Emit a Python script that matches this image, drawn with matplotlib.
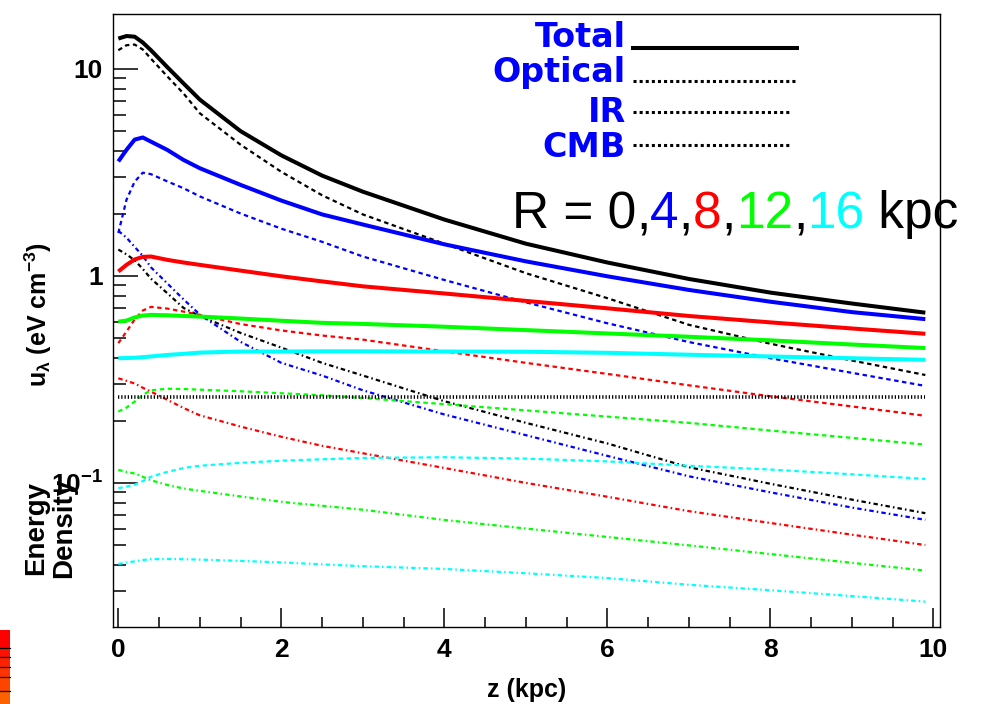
import matplotlib
matplotlib.use("Agg")
import matplotlib.pyplot as plt
from matplotlib import font_manager
from matplotlib.lines import Line2D
from matplotlib.patches import Rectangle
from matplotlib.ticker import MultipleLocator, LogLocator, NullFormatter

# ---------------- data: energy density vs height above the plane ----------------
z = [0, 0.1, 0.2, 0.3, 0.4, 0.6, 0.8, 1.0, 1.5, 2.0, 2.5, 3.0, 4, 5, 6, 7, 8, 9, 9.9]

radii = [0, 4, 8, 12, 16]
colors = ["#000000", "#0000ff", "#ff0000", "#00ff00", "#00ffff"]

total_r0 = [14.0, 14.4, 14.3, 13.4, 12.3, 10.2, 8.5, 7.1, 5.0, 3.82, 3.05, 2.55, 1.87, 1.43, 1.16, 0.966, 0.83, 0.735, 0.664]
optical_r0 = [12.3, 13.0, 13.1, 12.4, 11.2, 9.2, 7.6, 6.1, 4.3, 3.18, 2.45, 1.98, 1.43, 1.03, 0.78, 0.58, 0.47, 0.39, 0.332]
ir_r0 = [1.34, 1.27, 1.19, 1.08, 0.97, 0.825, 0.70, 0.64, 0.53, 0.45, 0.38, 0.33, 0.248, 0.195, 0.155, 0.119, 0.099, 0.083, 0.0714]

total_r4 = [3.57, 4.06, 4.55, 4.66, 4.45, 4.06, 3.63, 3.31, 2.75, 2.31, 1.98, 1.77, 1.42, 1.175, 0.995, 0.855, 0.75, 0.668, 0.618]
optical_r4 = [1.61, 2.33, 2.85, 3.15, 3.10, 2.86, 2.65, 2.42, 2.0, 1.69, 1.46, 1.24, 0.955, 0.745, 0.59, 0.479, 0.40, 0.34, 0.294]
ir_r4 = [1.65, 1.53, 1.38, 1.25, 1.10, 0.92, 0.77, 0.65, 0.48, 0.38, 0.33, 0.28, 0.214, 0.17, 0.135, 0.1076, 0.09, 0.076, 0.0663]

total_r8 = [1.05, 1.13, 1.20, 1.235, 1.24, 1.195, 1.16, 1.13, 1.06, 0.995, 0.94, 0.89, 0.822, 0.757, 0.697, 0.64, 0.596, 0.557, 0.525]
optical_r8 = [0.473, 0.538, 0.615, 0.68, 0.708, 0.695, 0.672, 0.648, 0.585, 0.545, 0.515, 0.492, 0.432, 0.38, 0.336, 0.296, 0.262, 0.234, 0.211]
ir_r8 = [0.32, 0.311, 0.302, 0.288, 0.276, 0.252, 0.23, 0.212, 0.187, 0.167, 0.151, 0.139, 0.118, 0.1, 0.0857, 0.073, 0.064, 0.0562, 0.0501]

total_r12 = [0.601, 0.608, 0.63, 0.643, 0.648, 0.645, 0.64, 0.636, 0.622, 0.607, 0.593, 0.586, 0.568, 0.547, 0.527, 0.508, 0.488, 0.466, 0.448]
optical_r12 = [0.221, 0.231, 0.247, 0.266, 0.28, 0.285, 0.284, 0.282, 0.277, 0.271, 0.265, 0.257, 0.24, 0.224, 0.209, 0.195, 0.179, 0.165, 0.153]
ir_r12 = [0.1156, 0.113, 0.111, 0.107, 0.103, 0.0977, 0.094, 0.0915, 0.086, 0.081, 0.0775, 0.0742, 0.0662, 0.0602, 0.0548, 0.0499, 0.0453, 0.0411, 0.0377]

total_r16 = [0.40, 0.401, 0.402, 0.405, 0.408, 0.415, 0.42, 0.426, 0.431, 0.431, 0.432, 0.432, 0.431, 0.43, 0.425, 0.416, 0.408, 0.40, 0.393]
optical_r16 = [0.0942, 0.096, 0.098, 0.102, 0.107, 0.113, 0.118, 0.121, 0.125, 0.128, 0.13, 0.132, 0.133, 0.131, 0.127, 0.121, 0.116, 0.11, 0.1045]
ir_r16 = [0.0406, 0.0412, 0.0418, 0.0424, 0.0428, 0.0429, 0.0428, 0.0426, 0.042, 0.0413, 0.0404, 0.0396, 0.0384, 0.0366, 0.0347, 0.0322, 0.0303, 0.0284, 0.0267]

z_cmb = [0, 9.9]
cmb = [0.261, 0.261]

totals = [total_r0, total_r4, total_r8, total_r12, total_r16]
opticals = [optical_r0, optical_r4, optical_r8, optical_r12, optical_r16]
irs = [ir_r0, ir_r4, ir_r8, ir_r12, ir_r16]

legend_names = ["Total", "Optical", "IR", "CMB"]

# ---------------- fonts ----------------
available = {f.name for f in font_manager.fontManager.ttflist}
num_family = "Liberation Sans Narrow" if "Liberation Sans Narrow" in available else "Liberation Sans"
sans = "Liberation Sans"
plt.rcParams["mathtext.fontset"] = "custom"
plt.rcParams["mathtext.rm"] = f"{num_family}:bold"
plt.rcParams["mathtext.bf"] = f"{num_family}:bold"
plt.rcParams["mathtext.it"] = f"{num_family}:bold"
plt.rcParams["mathtext.sf"] = f"{num_family}:bold"
plt.rcParams["mathtext.default"] = "regular"

# ---------------- figure ----------------
W, H = 984, 704
fig = plt.figure(figsize=(W / 100, H / 100), dpi=100)
ax = fig.add_axes([112.7 / W, 1 - 626.7 / H, (940 - 112.7) / W, (626.7 - 14) / H])

optical_style = (0, (2.0, 1.6))
ir_style = (0, (2.0, 1.4, 0.7, 1.4))

for tot, opt, ir, c in zip(totals, opticals, irs, colors):
    ax.plot(z, tot, color=c, lw=2.9, solid_capstyle="butt")
    ax.plot(z, opt, color=c, lw=1.6, linestyle=optical_style)
    ax.plot(z, ir, color=c, lw=1.6, linestyle=ir_style)

ax.plot(z_cmb, cmb, color="black", lw=2.6, linestyle=(0, (0.35, 0.55)))

ax.set_yscale("log")
ax.set_ylim(0.0202, 18.4)
ax.set_xlim(-0.069, 10.08)

ax.xaxis.set_major_locator(MultipleLocator(2))
ax.xaxis.set_minor_locator(MultipleLocator(0.5))
ax.set_yticks([0.1, 1, 10])
ax.set_yticklabels([r"$10^{-1}$", "1", "10"])
ax.yaxis.set_minor_locator(LogLocator(base=10, subs=[2, 3, 4, 5, 6, 7, 8, 9]))
ax.yaxis.set_minor_formatter(NullFormatter())

ax.tick_params(axis="y", which="major", direction="in", length=18, width=1.1, pad=7)
ax.tick_params(axis="y", which="minor", direction="in", length=9.4, width=1.1)
ax.tick_params(axis="x", which="major", direction="in", length=13.5, width=1.1, pad=8)
ax.tick_params(axis="x", which="minor", direction="in", length=7, width=1.1)
for lbl in ax.get_xticklabels() + ax.get_yticklabels():
    lbl.set_fontfamily(num_family)
    lbl.set_fontweight("bold")
    lbl.set_fontsize(19)
for sp in ax.spines.values():
    sp.set_linewidth(1.0)

# axis titles
fig.text(527 / W, 1 - 690 / H, "z (kpc)", ha="center", va="center",
         family=sans, weight="bold", fontsize=18)
fig.text(38 / W, 1 - 315 / H, r"u$_{\lambda}$ (eV cm$^{-3}$)", rotation=90,
         ha="center", va="center", family=sans, weight="bold", fontsize=18)
fig.text(50 / W, 1 - 528 / H, "Energy\nDensity", rotation=90, ha="center", va="center",
         family=sans, weight="bold", fontsize=20, linespacing=1.1)

# legend block: names and line samples
name_baselines = [46.7, 81.7, 121.7, 156.7]
sample_rows = [(633, 797, 48.3, "-"), (633, 797, 80.7, ":"), (633, 790, 111.7, ":"), (633, 790, 145, ":")]
for name, yb in zip(legend_names, name_baselines):
    fig.text(626 / W, 1 - yb / H, name, ha="right", va="baseline", color="#0000ff",
             family="DejaVu Sans", weight="bold", fontsize=24)
for x0, x1, yy, ls in sample_rows:
    if ls == "-":
        fig.add_artist(Line2D([x0 / W, x1 / W], [1 - yy / H, 1 - yy / H], color="black",
                              lw=2.9, transform=fig.transFigure))
    else:
        fig.add_artist(Line2D([x0 / W, x1 / W], [1 - yy / H, 1 - yy / H], color="black",
                              lw=2.2, linestyle=(0, (1.0, 1.0)), transform=fig.transFigure))

# radius key written in the curve colours
fig.canvas.draw()
renderer = fig.canvas.get_renderer()
pieces = [("R = 0", "black"), (",", "black"), ("4", colors[1]), (",", "black"), ("8", colors[2]),
          (",", "black"), ("12", colors[3]), (",", "black"), ("16", colors[4]), (" kpc", "black")]
xpos = 511.7 / W
for s, c in pieces:
    t = fig.text(xpos, 1 - 228.3 / H, s, color=c, ha="left", va="baseline",
                 family=sans, fontsize=37)
    bb = t.get_window_extent(renderer=renderer)
    xpos = bb.x1 / W

# colour strip at the lower left edge
strip = [(630, 648, "#ff0000"), (648, 657, "#ff1000"), (657, 667, "#ff2200"),
         (667, 677, "#ff3300"), (677, 691, "#ff4400"), (691, 704, "#ff6000")]
for y0, y1, c in strip:
    fig.add_artist(Rectangle((0, 1 - y1 / H), 10 / W, (y1 - y0) / H, facecolor=c,
                             edgecolor="none", transform=fig.transFigure))
for yl in [648, 657, 667, 677, 691]:
    fig.add_artist(Line2D([0, 10 / W], [1 - yl / H, 1 - yl / H], color="black", lw=0.9,
                          transform=fig.transFigure))

fig.savefig("out.png", dpi=100)
